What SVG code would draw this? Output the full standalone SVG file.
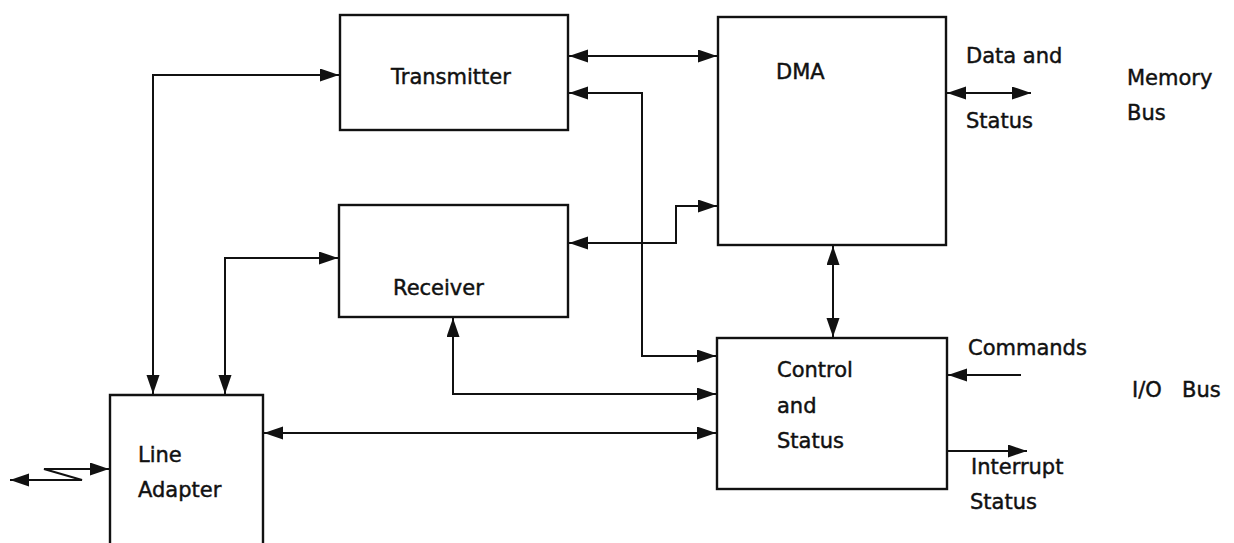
<svg xmlns="http://www.w3.org/2000/svg" width="1234" height="543" viewBox="0 0 1234 543">
<style>
.box{fill:none;stroke:#111;stroke-width:2.4}
.c{fill:none;stroke:#111;stroke-width:2}
.t{font-family:"DejaVu Sans",sans-serif;font-size:21px;fill:#111;stroke:#111;stroke-width:0.45}
</style>
<defs>
<marker id="a" markerUnits="userSpaceOnUse" markerWidth="22" markerHeight="14" refX="19" refY="6.5" orient="auto-start-reverse">
<path d="M0,0 L19,6.5 L0,13 z" fill="#111"/>
</marker>
</defs>
<rect width="1234" height="543" fill="#fff"/>
<g id="transmitter">
<rect class="box" x="340" y="15" width="228" height="115"/>
<text class="t" x="391" y="84">Transmitter</text>
</g>
<g id="receiver">
<rect class="box" x="339" y="205" width="229" height="112"/>
<text class="t" x="393" y="295">Receiver</text>
</g>
<g id="dma">
<rect class="box" x="718" y="17" width="228" height="228"/>
<text class="t" x="776" y="79">DMA</text>
</g>
<g id="control">
<rect class="box" x="717" y="338" width="230" height="151"/>
<text class="t" x="777" y="377">Control</text>
<text class="t" x="777" y="413">and</text>
<text class="t" x="777" y="448">Status</text>
</g>
<g id="lineadapter">
<path class="box" d="M110,545 V395 H263 V545"/>
<text class="t" x="138" y="462">Line</text>
<text class="t" x="138" y="497">Adapter</text>
</g>
<g id="labels">
<text class="t" x="966" y="63">Data and</text>
<text class="t" x="966" y="128">Status</text>
<text class="t" x="1127" y="85">Memory</text>
<text class="t" x="1127" y="120">Bus</text>
<text class="t" x="968" y="355">Commands</text>
<text class="t" x="1132" y="397">I/O <tspan x="1182">Bus</tspan></text>
<text class="t" x="971" y="474">Interrupt</text>
<text class="t" x="970" y="509">Status</text>
</g>
<g id="connectors">
<path class="c" d="M153,394 V75 H339" marker-start="url(#a)" marker-end="url(#a)"/>
<path class="c" d="M225,394 V258 H338" marker-start="url(#a)" marker-end="url(#a)"/>
<path class="c" d="M569,56 H717" marker-start="url(#a)" marker-end="url(#a)"/>
<path class="c" d="M569,93 H642 V356 H716" marker-start="url(#a)" marker-end="url(#a)"/>
<path class="c" d="M569,243 H676 V206 H717" marker-start="url(#a)" marker-end="url(#a)"/>
<path class="c" d="M453,318 V394 H716" marker-start="url(#a)" marker-end="url(#a)"/>
<path class="c" d="M264,433 H716" marker-start="url(#a)" marker-end="url(#a)"/>
<path class="c" d="M833,246 V337" marker-start="url(#a)" marker-end="url(#a)"/>
<path class="c" d="M947,93 H1031" marker-start="url(#a)" marker-end="url(#a)"/>
<path class="c" d="M1021,375 H948" marker-end="url(#a)"/>
<path class="c" d="M948,451 H1027" marker-end="url(#a)"/>
<path class="c" d="M10,480 H82 L44,469 H109" marker-start="url(#a)" marker-end="url(#a)"/>
</g>
</svg>
